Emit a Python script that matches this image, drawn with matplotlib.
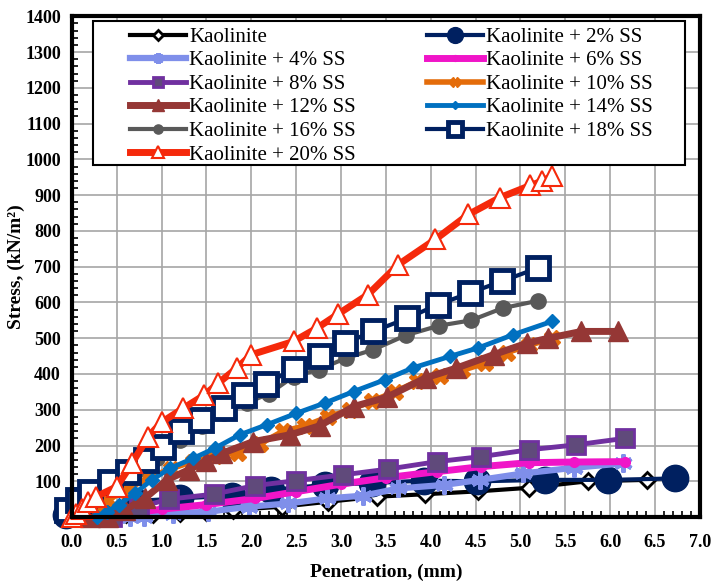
import matplotlib
matplotlib.use("Agg")
import matplotlib.pyplot as plt
from matplotlib.ticker import MultipleLocator
from matplotlib.patches import Rectangle

plt.rcParams['font.family'] = ['Liberation Serif', 'DejaVu Serif']

# penetration (mm) / stress (kN/m2) for each mix
x_k0 = [0, 0.3, 0.6, 0.9, 1.2, 1.5, 1.8, 2.34, 2.86, 3.40, 3.94, 4.53, 5.1, 5.75, 6.41]
y_k0 = [0, 5, 8, 10, 12, 15, 20, 29, 43, 57, 64, 72, 82, 100, 104]

x_k2 = [-0.07, 0.3, 0.7, 1.2, 1.78, 2.22, 2.82, 3.35, 3.92, 4.52, 5.27, 5.98, 6.72]
y_k2 = [6, 30, 45, 52, 60, 76, 90, 95, 102, 100, 104, 104, 108]

x_k4 = [0.5, 0.65, 0.8, 1.13, 1.52, 1.97, 2.41, 2.84, 3.25, 3.64, 4.15, 4.55, 5.03, 5.6, 6.14]
y_k4 = [0, 0, 0, 10, 15, 29, 38, 52, 60, 80, 90, 104, 122, 138, 150]

x_k6 = [0.5, 1.0, 1.5, 2.04, 2.5, 3.0, 3.5, 4.07, 4.56, 5.09, 5.6, 6.16]
y_k6 = [5, 22, 35, 52, 71, 92, 110, 127, 141, 152, 154, 155]

x_k8 = [0.45, 0.75, 1.08, 1.58, 2.04, 2.5, 3.02, 3.52, 4.07, 4.56, 5.09, 5.62, 6.16]
y_k8 = [0, 28, 50, 64, 88, 102, 118, 134, 155, 169, 188, 202, 220]

x_k10 = [0.25, 0.4, 0.6, 0.85, 1.1, 1.35, 1.6, 1.85, 2.1, 2.35, 2.6, 2.85, 3.1,
         3.35, 3.6, 3.85, 4.1, 4.35, 4.6, 4.85, 5.1, 5.35]
y_k10 = [0, 48, 75, 110, 135, 155, 170, 180, 205, 240, 255, 280, 300,
         325, 350, 380, 395, 410, 430, 460, 480, 500]

x_k12 = [0.2, 0.4, 0.59, 0.81, 1.06, 1.3, 1.5, 1.67, 2.02, 2.43, 2.76, 3.14,
         3.51, 3.95, 4.28, 4.70, 5.07, 5.31, 5.68, 6.09]
y_k12 = [0, 1, 20, 52, 104, 132, 158, 178, 211, 230, 255, 309,
         335, 390, 416, 454, 486, 500, 519, 519]

x_k14 = [0.28, 0.39, 0.52, 0.70, 0.89, 1.09, 1.35, 1.59, 1.87, 2.17, 2.5, 2.82,
         3.14, 3.49, 3.80, 4.21, 4.53, 4.92, 5.35]
y_k14 = [1, 15, 34, 66, 104, 136, 164, 192, 230, 258, 290, 319,
         351, 384, 417, 449, 473, 510, 547]

x_k16 = [0, 0.2, 0.45, 0.7, 0.95, 1.2, 1.45, 1.7, 1.95, 2.2, 2.47, 2.75, 3.05,
         3.36, 3.72, 4.09, 4.45, 4.8, 5.2]
y_k16 = [0, 40, 80, 125, 165, 215, 255, 290, 320, 345, 393, 412, 444,
         468, 508, 535, 550, 584, 605]

x_k18 = [-0.05, 0.07, 0.2, 0.42, 0.63, 0.83, 1.02, 1.22, 1.44, 1.69, 1.92, 2.16,
         2.47, 2.77, 3.04, 3.36, 3.74, 4.08, 4.44, 4.79, 5.2]
y_k18 = [20, 48, 71, 99, 127, 160, 195, 240, 272, 304, 340, 372,
         415, 449, 486, 519, 556, 594, 627, 659, 697]

x_k20 = [0, 0.05, 0.11, 0.18, 0.27, 0.5, 0.67, 0.85, 1.0, 1.24, 1.47, 1.63, 1.84,
         2.0, 2.47, 2.73, 2.97, 3.30, 3.64, 4.05, 4.42, 4.77, 5.11, 5.24, 5.35]
y_k20 = [0, 8, 24, 43, 57, 85, 150, 225, 265, 304, 340, 374, 417,
         454, 491, 528, 568, 622, 706, 776, 846, 893, 927, 939, 953]

fig = plt.figure(figsize=(7.12, 5.81), dpi=100)
ax = fig.add_axes([0.101, 0.110, 0.882, 0.862])

h = {}
h['k0'], = ax.plot(x_k0, y_k0, color='black', lw=3, marker='D', ms=8, mfc='white',
                   mec='black', mew=2, label='Kaolinite', clip_on=False)
h['k2'], = ax.plot(x_k2, y_k2, color='#002060', lw=3, marker='o', ms=19,
                   label='Kaolinite + 2% SS', clip_on=False)
h['k4'], = ax.plot(x_k4, y_k4, color='#7F8FEA', lw=4.5, marker=(6, 2, 0), ms=13, mew=3,
                   label='Kaolinite + 4% SS', clip_on=False)
h['k6'], = ax.plot(x_k6, y_k6, color='#F015C8', lw=5, marker='o', ms=7,
                   label='Kaolinite + 6% SS', clip_on=False)
h['k8'], = ax.plot(x_k8, y_k8, color='#7030A0', lw=3.5, marker='s', ms=13, mfc='#604A7B',
                   mec='#7030A0', mew=2, label='Kaolinite + 8% SS', clip_on=False)
h['k10'], = ax.plot(x_k10, y_k10, color='#E46C0A', lw=4, marker='X', ms=11,
                    label='Kaolinite + 10% SS', clip_on=False)
h['k12'], = ax.plot(x_k12, y_k12, color='#953735', lw=5, marker='^', ms=15,
                    label='Kaolinite + 12% SS', clip_on=False)
h['k14'], = ax.plot(x_k14, y_k14, color='#0070C0', lw=3.5, marker='D', ms=7,
                    label='Kaolinite + 14% SS', clip_on=False)
h['k16'], = ax.plot(x_k16, y_k16, color='#595959', lw=3, marker='o', ms=11,
                    label='Kaolinite + 16% SS', clip_on=False)
h['k18'], = ax.plot(x_k18, y_k18, color='#002060', lw=3, marker='s', ms=16, mfc='white',
                    mec='#002060', mew=3.5, label='Kaolinite + 18% SS', clip_on=False)
h['k20'], = ax.plot(x_k20, y_k20, color='#F5290B', lw=5, marker='^', ms=15, mfc='white',
                    mec='#F5290B', mew=1.5, label='Kaolinite + 20% SS', clip_on=False)

ax.set_xlim(0, 7)
ax.set_ylim(0, 1400)
ax.xaxis.set_major_locator(MultipleLocator(0.5))
ax.xaxis.set_minor_locator(MultipleLocator(0.1))
ax.yaxis.set_major_locator(MultipleLocator(100))
ax.yaxis.set_minor_locator(MultipleLocator(20))
ax.grid(True, which='major', color='#A6A6A6', lw=1.2)
ax.set_axisbelow(True)

ax.tick_params(which='both', direction='in', labelsize=13)
ax.tick_params(which='major', length=0)
ax.tick_params(axis='x', which='major', pad=12)
ax.tick_params(axis='y', which='major', pad=8)
ax.tick_params(which='minor', length=4, width=1.2)
for t in ax.get_yticklabels():
    t.set_fontweight('bold')
ax.set_xticklabels([f'{v:.1f}' for v in ax.get_xticks()], fontweight='bold')

for s in ax.spines.values():
    s.set_linewidth(3)

ax.set_xlabel('Penetration, (mm)', fontsize=14, fontweight='bold')
ax.set_ylabel('Stress, (kN/m²)', fontsize=14, fontweight='bold')
ax.xaxis.set_label_coords(0.5, -0.094)
ax.yaxis.set_label_coords(-0.075, 0.5)

# legend box drawn separately so the entries can sit inset from its edges
ax.add_patch(Rectangle((0.0334, 0.7026), 0.9426, 0.2874, transform=ax.transAxes,
                       fc='white', ec='black', lw=1.5, zorder=4, clip_on=False))
order = ['k0', 'k4', 'k8', 'k12', 'k16', 'k20', 'k2', 'k6', 'k10', 'k14', 'k18']
leg = ax.legend([h[k] for k in order], [h[k].get_label() for k in order],
                ncol=2, loc='upper left', bbox_to_anchor=(0.0924, 0.978),
                prop={'family': 'Liberation Serif', 'size': 15},
                frameon=False, handlelength=2.7, markerscale=0.6,
                labelspacing=0.19, borderpad=0, handletextpad=0.15,
                columnspacing=3.4, borderaxespad=0)
leg.set_zorder(5)

fig.savefig('out.png', dpi=100)
